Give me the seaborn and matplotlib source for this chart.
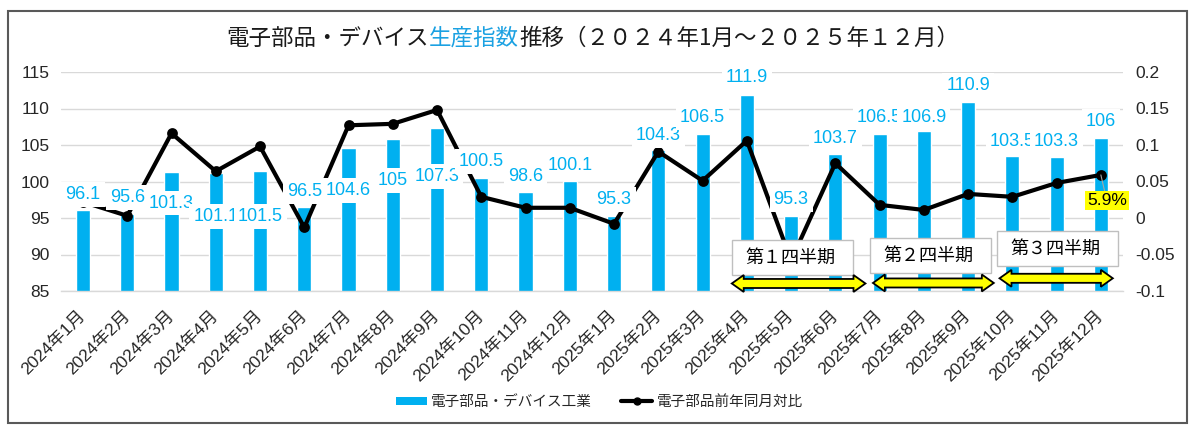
import matplotlib
matplotlib.use("Agg")
import matplotlib.pyplot as plt
import matplotlib.patches as mpatches
from matplotlib.lines import Line2D
from matplotlib.font_manager import FontProperties
import seaborn as sns

# ---------------- data ----------------
months = ["2024年1月", "2024年2月", "2024年3月", "2024年4月", "2024年5月", "2024年6月",
          "2024年7月", "2024年8月", "2024年9月", "2024年10月", "2024年11月", "2024年12月",
          "2025年1月", "2025年2月", "2025年3月", "2025年4月", "2025年5月", "2025年6月",
          "2025年7月", "2025年8月", "2025年9月", "2025年10月", "2025年11月", "2025年12月"]
index_values = [96.1, 95.6, 101.3, 101.1, 101.5, 96.5, 104.6, 105.8, 107.3, 100.5, 98.6, 100.1,
                95.3, 104.3, 106.5, 111.9, 95.3, 103.7, 106.5, 106.9, 110.9, 103.5, 103.3, 106.0]
index_labels = ["96.1", "95.6", "101.3", "101.1", "101.5", "96.5", "104.6", "105", "107.3",
                "100.5", "98.6", "100.1", "95.3", "104.3", "106.5", "111.9", "95.3", "103.7",
                "106.5", "106.9", "110.9", "103.5", "103.3", "106"]
yoy_values = [0.022, 0.003, 0.116, 0.064, 0.098, -0.013, 0.127, 0.129, 0.148, 0.029, 0.014, 0.014,
              -0.008, 0.091, 0.051, 0.106, -0.058, 0.075, 0.018, 0.011, 0.033, 0.029, 0.048, 0.059]
last_label = "5.9%"
left_ticks = [85, 90, 95, 100, 105, 110, 115]
right_ticks = [-0.1, -0.05, 0, 0.05, 0.1, 0.15, 0.2]
quarters = ["第１四半期", "第２四半期", "第３四半期"]
legend_labels = ["電子部品・デバイス工業", "電子部品前年同月対比"]
title_parts = ["電子部品・デバイス", "生産指数", "推移（２０２４年1月～２０２５年１２月）"]

# ---------------- style ----------------
# label offsets (pixels, label centre relative to bar top)
label_dy_px = [15.5, 16.5, -31, -43, -46, 16, -43, -41, -48, 16.5, 15, 15,
               16, 15, 17, 17, 16, 16, 17, 14, 16, 14.5, 15.5, 16]
BAR = "#00B0F0"
BLUE_T = "#1BA1E2"
GRID = "#D9D9D9"
CJK = ["Noto Sans CJK JP", "DejaVu Sans"]
LAT = ["Liberation Sans", "Noto Sans CJK JP", "DejaVu Sans"]

sns.set_style("white")
plt.rcParams["font.family"] = LAT

W, H = 1200, 437
fig = plt.figure(figsize=(W / 100, H / 100), dpi=100)
fig.patch.set_facecolor("white")

px_l, px_r, px_t, px_b = 60.9, 1123.0, 72.0, 291.0
ax1 = fig.add_axes([px_l / W, 1 - px_b / H, (px_r - px_l) / W, (px_b - px_t) / H])

sns.barplot(x=months, y=index_values, color=BAR, width=0.32, saturation=1, ax=ax1, zorder=2)
ax1.set_axisbelow(True)

ax2 = ax1.twinx()
sns.pointplot(x=months, y=yoy_values, color="black", markers="o", markersize=5.5,
              linewidth=3.0, errorbar=None, ax=ax2)

ax1.set_xlim(-0.5, len(months) - 0.5)
ax1.set_ylim(left_ticks[0], left_ticks[-1])
ax2.set_ylim(right_ticks[0], right_ticks[-1])

ax1.set_yticks(left_ticks)
ax1.set_yticklabels([str(t) for t in left_ticks], fontsize=12.5, family=LAT)
ax2.set_yticks(right_ticks)
ax2.set_yticklabels([f"{t:g}" for t in right_ticks], fontsize=12.5, family=LAT)

ax1.set_xticks(range(len(months)))
ax1.set_xticklabels(months, rotation=45, ha="right", va="center", rotation_mode="anchor",
                    fontsize=12.5, family=LAT)
ax1.set_xticks([i - 0.5 for i in range(len(months) + 1)], minor=True)
ax1.tick_params(axis="x", which="major", length=0, pad=16)
ax1.tick_params(axis="x", which="minor", length=5, color=GRID, width=1)
ax1.tick_params(axis="y", length=0, pad=8)
ax2.tick_params(axis="y", length=0, pad=9)
ax1.set_xlabel("")
ax1.set_ylabel("")
ax2.set_ylabel("")

ax1.yaxis.grid(True, color=GRID, lw=1)
ax1.xaxis.grid(False)
for s in ["left", "right", "top"]:
    ax1.spines[s].set_visible(False)
ax1.spines["bottom"].set_color(GRID)
ax1.spines["bottom"].set_linewidth(1)
for s in ax2.spines.values():
    s.set_visible(False)

# bar value labels (white boxes, drawn above the line)
for i, (v, lab) in enumerate(zip(index_values, index_labels)):
    ax2.annotate(lab, xy=(i, v), xycoords=ax1.transData,
                 xytext=(0, label_dy_px[i] * 0.72), textcoords="offset points",
                 ha="center", va="center", color=BAR, fontsize=13, family=LAT,
                 bbox=dict(boxstyle="square,pad=0.22", fc="white", ec="none"),
                 zorder=10, annotation_clip=False)

# last point label
ax2.annotate(last_label, xy=(len(months) - 1, yoy_values[-1]),
             xytext=(4.3, -18.7), textcoords="offset points",
             ha="center", va="center", color="black", fontsize=12.5, family=LAT,
             bbox=dict(boxstyle="square,pad=0.12", fc="#FFFF00", ec="none"),
             arrowprops=dict(arrowstyle="-", color="#A6A6A6", lw=0.8, shrinkA=0, shrinkB=0),
             zorder=12, annotation_clip=False)

# quarter boxes and yellow double arrows (layout in category / left-axis units)
boxes = [(14.66, 17.39, 87.19, 91.99), (17.78, 20.51, 87.47, 92.26), (20.65, 23.38, 88.42, 93.22)]
arrows = [(14.66, 17.68, 86.03), (17.85, 20.58, 86.10), (20.71, 23.27, 86.74)]
for (x0, x1, y0, y1), q in zip(boxes, quarters):
    ax2.add_patch(mpatches.Rectangle((x0, y0), x1 - x0, y1 - y0, transform=ax1.transData,
                                     facecolor="white", edgecolor="#BFBFBF", lw=1,
                                     zorder=11, clip_on=False))
    ax2.text((x0 + x1) / 2 - 0.05, (y0 + y1) / 2, q, transform=ax1.transData,
             ha="center", va="center", fontsize=13, family=CJK, color="black", zorder=12)


def darrow(x0, x1, yc, shaft=0.62, head=1.16, hl=0.27):
    return [(x0, yc), (x0 + hl, yc + head), (x0 + hl, yc + shaft), (x1 - hl, yc + shaft),
            (x1 - hl, yc + head), (x1, yc), (x1 - hl, yc - head), (x1 - hl, yc - shaft),
            (x0 + hl, yc - shaft), (x0 + hl, yc - head)]


for x0, x1, yc in arrows:
    ax2.add_patch(mpatches.Polygon(darrow(x0, x1, yc), closed=True, transform=ax1.transData,
                                   facecolor="#FFFF00", edgecolor="black", lw=1.3,
                                   joinstyle="miter", zorder=11, clip_on=False))

# legend
handles = [mpatches.Patch(facecolor=BAR, edgecolor="none"),
           Line2D([], [], color="black", lw=3.0, marker="o", markersize=5)]
fig.legend(handles, legend_labels, loc="center", bbox_to_anchor=(0.4996, 0.080), ncol=2,
           frameon=False, prop=FontProperties(family=CJK, size=10.5),
           handlelength=2.1, handleheight=0.5, handletextpad=0.3, columnspacing=2.0)

# title with coloured middle part
fig.canvas.draw()
r = fig.canvas.get_renderer()
colors = ["#1a1a1a", BLUE_T, "#1a1a1a"]
tobjs = [fig.text(0, 1 - 38.5 / H, s, color=c, fontsize=16.2, family=CJK, va="center", ha="left")
         for s, c in zip(title_parts, colors)]
widths = [t.get_window_extent(r).width for t in tobjs]
x = 593 - sum(widths) / 2
for t, w in zip(tobjs, widths):
    t.set_x(x / W)
    x += w

# chart frame
fig.patches.append(mpatches.Rectangle((7.7 / W, 1 - 423 / H), (1187 - 7.7) / W, (423 - 11) / H,
                                      transform=fig.transFigure, fill=False,
                                      edgecolor="#595959", lw=1.5, zorder=20))

fig.savefig("out.png", dpi=100, facecolor="white")
